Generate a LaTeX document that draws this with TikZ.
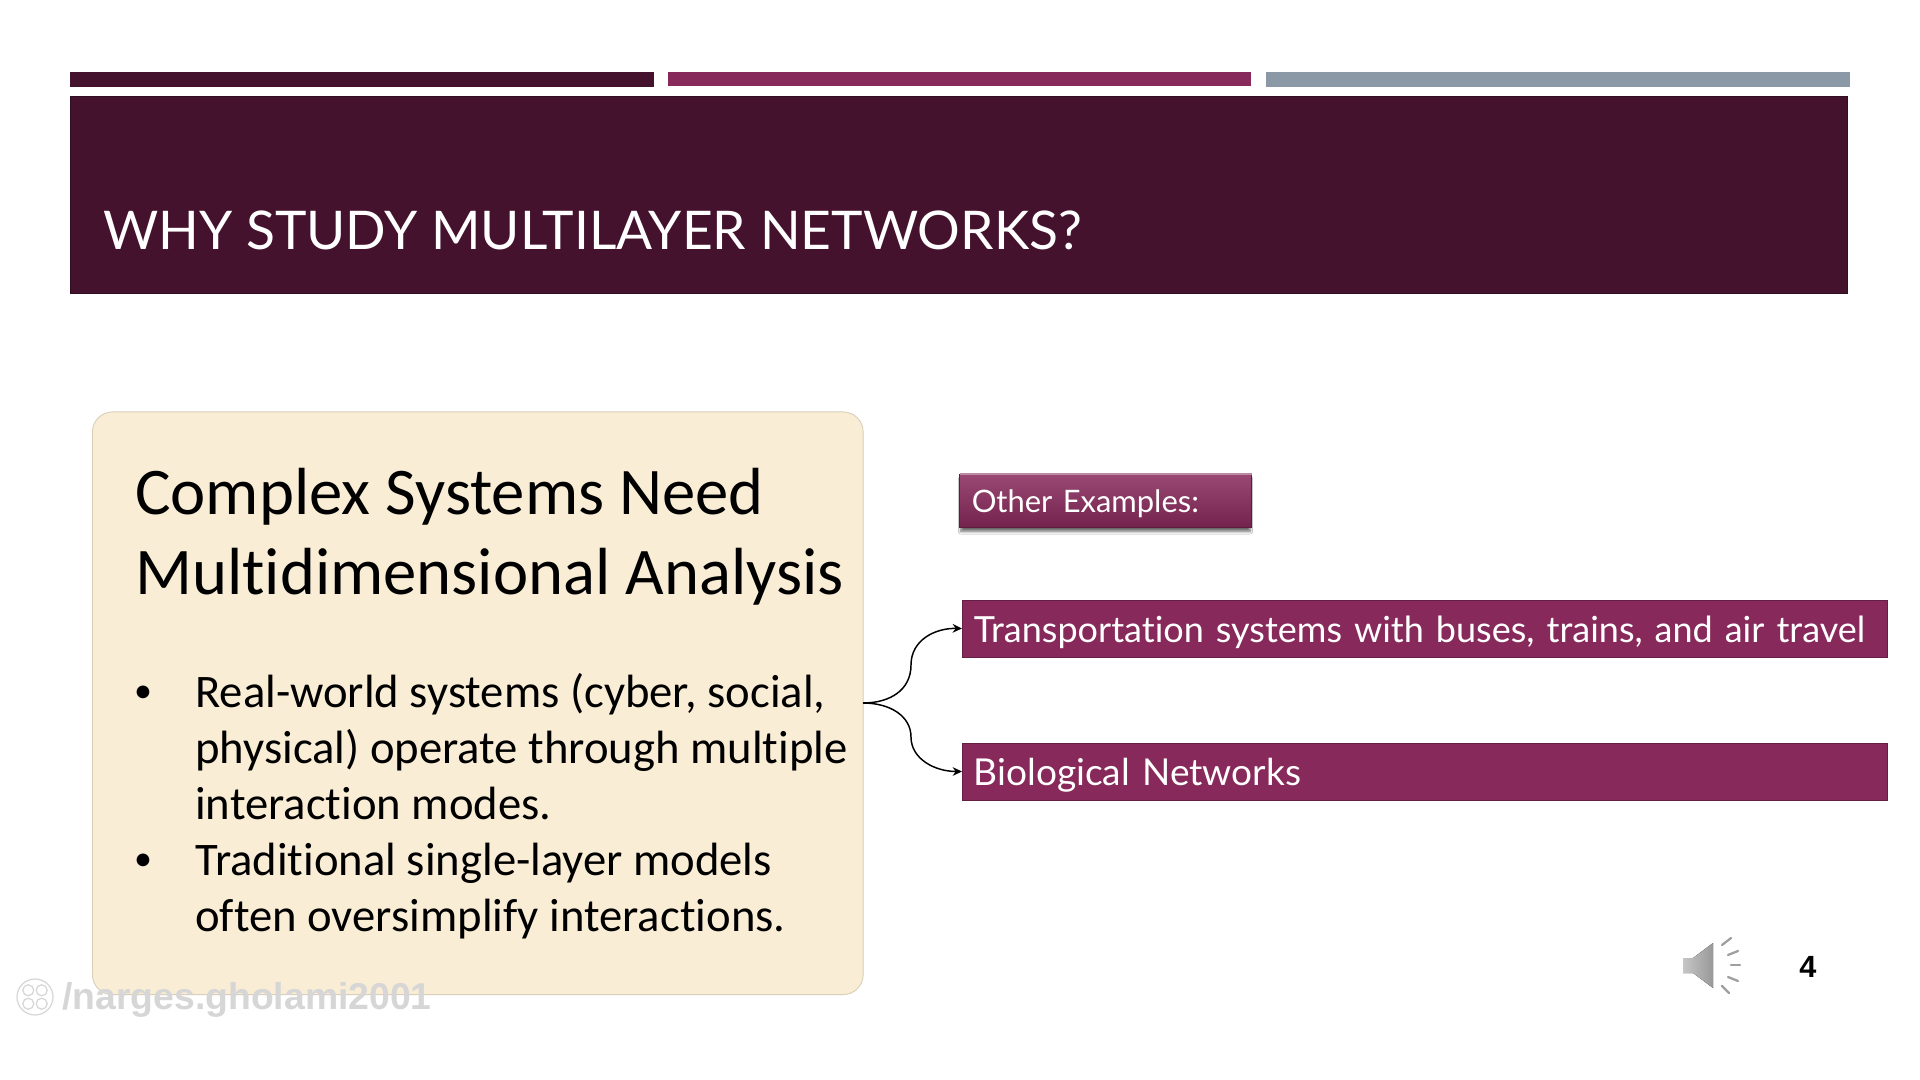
\documentclass[tikz,border=0pt]{standalone}
\usepackage{fontspec}
\setmainfont{Lato}
\newfontfamily\gillish{Lato}[Ligatures=NoCommon]
\newfontfamily\bodyfont{Carlito}[Ligatures=NoCommon]
\newfontfamily\markfont{Liberation Sans}
\usetikzlibrary{arrows.meta,shadows.blur,calc}
\definecolor{plumdark}{HTML}{45122E}
\definecolor{plum}{HTML}{87295A}
\definecolor{slategrey}{HTML}{8B98A6}
\definecolor{creambox}{HTML}{F9EDD5}
\definecolor{creamedge}{HTML}{D9CFB8}
\definecolor{markgrey}{HTML}{D6D6D6}
\tikzset{
  px/.style={x=0.75pt,y=-0.75pt},
  example/.style={rectangle,anchor=north west,fill=plum,draw=plum!75!black,line width=0.6pt,
    inner sep=0pt,outer sep=0pt,text=white,align=left,text height=23pt,text depth=2.2pt,
    minimum width=693.75pt,minimum height=42.75pt,text width=676pt},
  link/.style={-{Stealth[length=7pt,width=6.5pt]},line width=1.1pt,black},
  listtext/.style={anchor=north west,inner sep=0pt,align=left,
    font=\bodyfont\fontsize{35}{42.2}\selectfont},
  bulletmark/.style={anchor=base,inner sep=0pt,font=\bodyfont\fontsize{27}{30}\selectfont},
  ray/.style={gray!75!white,line width=1.7pt,line cap=round},
}
\begin{document}
\begin{tikzpicture}[px]
\useasboundingbox (0,0) rectangle (1920,1080);
\fill[white] (0,0) rectangle (1920,1080);
% top bands
\fill[plumdark] (70,72) rectangle (654,87);
\fill[plum] (668,72) rectangle (1251,86);
\fill[slategrey] (1266,72) rectangle (1850,87);
% header
\node[draw=plumdark!70!black,fill=plumdark,line width=0.8pt,anchor=north west,inner sep=0pt,minimum width=1333pt,minimum height=147.75pt] (header) at (69.5,96) {};
\node[anchor=base west,inner sep=0pt,text=white,font=\gillish\fontsize{40}{44}\selectfont] (title) at (103,250) {WHY STUDY MULTILAYER NETWORKS?};
% cream box
\node[draw=creamedge,fill=creambox,line width=0.7pt,rounded corners=15pt,anchor=north west,inner sep=0pt,minimum width=578pt,minimum height=437pt] (main) at (92,411.5) {};
\node[anchor=north west,inner sep=0pt,align=left,font=\bodyfont\fontsize{50}{60}\selectfont] (head) at (135,468) {Complex Systems Need\\Multidimensional Analysis};
\node[bulletmark] (b1) at (143,702) {•};
\node[listtext] (t1) at (195,673) {Real-world systems (cyber, social,\\physical) operate through multiple\\interaction modes.};
\node[bulletmark] (b2) at (143,870) {•};
\node[listtext] (t2) at (195,843) {Traditional single-layer models\\often oversimplify interactions.};
% watermark
\node[anchor=base west,inner sep=0pt,text=markgrey,font=\markfont\bfseries\fontsize{28}{30}\selectfont] (wm) at (62,1009) {/narges.gholami2001};
\draw[markgrey,line width=0.9pt] (35,997) circle (18);
\foreach \a in {45,135,225,315}{\draw[markgrey,line width=0.9pt] ($(35,997)+(\a:9.5)$) circle (5.5);}
% other examples
\node[example,minimum width=219pt,minimum height=39.75pt,text width=200.6pt,text height=20.5pt,text depth=2.8pt,
  top color=plum!85!white,bottom color=plum!85!black,draw=plum!70!black,
  blur shadow={shadow xshift=0pt,shadow yshift=-3.5pt,shadow blur steps=6,shadow blur radius=2pt,shadow opacity=60,shadow scale=0.99},
  font=\gillish\fontsize{23.2}{26}\selectfont] (other) at (959.5,474) {Other Examples:};
\draw[plum!55!white,line width=0.8pt] (other.north west) -- (other.north east);
% boxes
\node[example,font=\gillish\fontsize{27}{30}\selectfont] (trans) at (962,600) {\mbox{Transportation systems with buses, trains, and air travel}};
\node[example,font=\gillish\fontsize{27.8}{30}\selectfont] (bio) at (962,743) {Biological Networks};
% connectors
\coordinate (src) at (863,703);
\coordinate (up) at (911,665);
\coordinate (dn) at (911,737);
\draw[link] (src) .. controls (890,703) and (911,690) .. (up) .. controls (911,640) and (935,628) .. (trans.west);
\draw[link] (src) .. controls (890,703) and (911,716) .. (dn) .. controls (911,759) and (935,771.5) .. (bio.west);
% speaker
\fill[left color=gray!45!white,right color=gray!80!white] (1693,958) -- (1713,943) -- (1713,988) -- (1693,973) -- (1683,973) -- (1683,958) -- cycle;
\draw[ray] (1722,945) -- (1731,938);
\draw[ray] (1728,955) -- (1738,951);
\draw[ray] (1731,965) -- (1740,965);
\draw[ray] (1728,977) -- (1738,981);
\draw[ray] (1722,986) -- (1729,993);
\node[anchor=center,inner sep=0pt,font=\markfont\bfseries\fontsize{23}{24}\selectfont] (pg) at (1808,967) {4};
\end{tikzpicture}
\end{document}
